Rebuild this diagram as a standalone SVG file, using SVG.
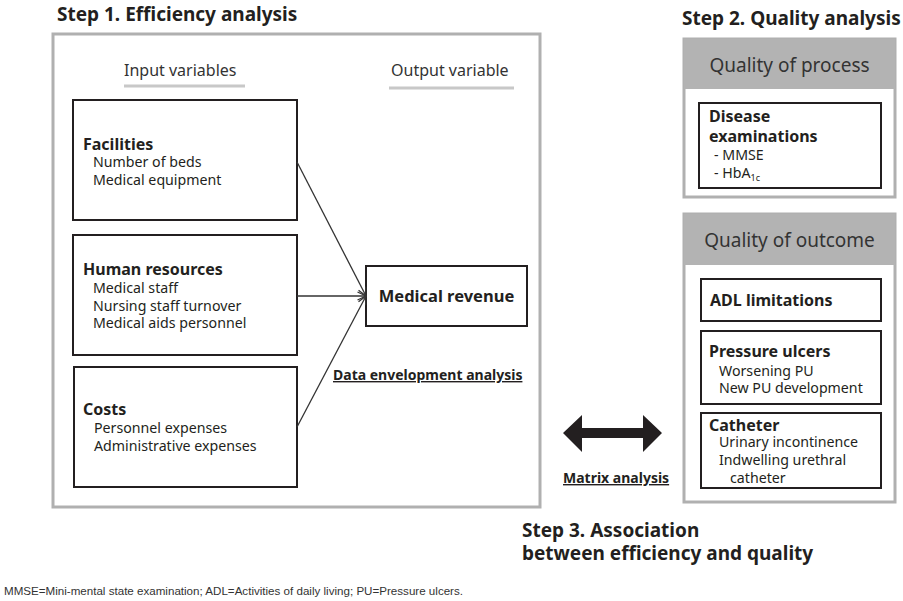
<svg xmlns="http://www.w3.org/2000/svg" width="903" height="601" viewBox="0 0 903 601">
<style>
  text { font-family: "Noto Sans", "Open Sans", sans-serif; fill: #231f20; }
  .title { font-size: 19px; font-weight: bold; }
  .hd { font-size: 16px; font-weight: bold; }
  .sub { font-size: 14.2px; }
  .col { font-size: 16px; fill: #333; }
  .qual { font-size: 19px; fill: #333; }
  .box { fill: #fff; stroke: #231f20; stroke-width: 2; }
  .frame { fill: #fff; stroke: #b0b0b0; stroke-width: 3; }
  .band { fill: #b3b3b3; }
  .conn { stroke: #333; stroke-width: 1.3; fill: none; }
  .ul { font-size: 14px; font-weight: bold; text-decoration: underline; }
  .foot { font-family: "Liberation Sans", Arial, sans-serif; font-size: 11.5px; fill: #333; }
</style>
<defs>
  <marker id="chev" viewBox="0 0 10 10" refX="9.5" refY="5" markerWidth="10" markerHeight="10" markerUnits="userSpaceOnUse" orient="auto">
    <path d="M1,1 L9.5,5 L1,9" fill="none" stroke="#333" stroke-width="1.3"/>
  </marker>
</defs>
<rect width="903" height="601" fill="#fff"/>

<!-- Step 1 -->
<text class="title" x="57" y="21">Step 1. Efficiency analysis</text>
<rect class="frame" x="53" y="34" width="487" height="473"/>
<text class="col" x="124" y="76">Input variables</text>
<line x1="124" y1="86" x2="245" y2="86" stroke="#c8c8c8" stroke-width="3"/>
<text class="col" x="391" y="76">Output variable</text>
<line x1="389" y1="88" x2="514" y2="88" stroke="#c8c8c8" stroke-width="3"/>

<g id="facilities">
  <rect class="box" x="73" y="100" width="224" height="120"/>
  <text class="hd" x="83" y="150">Facilities</text>
  <text class="sub" x="93" y="167">Number of beds</text>
  <text class="sub" x="93" y="185">Medical equipment</text>
</g>
<g id="human-resources">
  <rect class="box" x="73" y="235" width="224" height="120"/>
  <text class="hd" x="83" y="275">Human resources</text>
  <text class="sub" x="93" y="293">Medical staff</text>
  <text class="sub" x="93" y="311">Nursing staff turnover</text>
  <text class="sub" x="93" y="328">Medical aids personnel</text>
</g>
<g id="costs">
  <rect class="box" x="74" y="367" width="223" height="120"/>
  <text class="hd" x="83" y="415">Costs</text>
  <text class="sub" x="94" y="433">Personnel expenses</text>
  <text class="sub" x="94" y="451">Administrative expenses</text>
</g>
<g id="medical-revenue">
  <rect class="box" x="366" y="266" width="161" height="60"/>
  <text x="446.5" y="302" text-anchor="middle" style="font-size:16.5px;font-weight:bold">Medical revenue</text>
</g>
<text class="ul" x="333" y="380">Data envelopment analysis</text>

<g id="connectors">
  <line class="conn" x1="297" y1="162" x2="366" y2="296" marker-end="url(#chev)"/>
  <line class="conn" x1="297" y1="296" x2="366" y2="296" marker-end="url(#chev)"/>
  <line class="conn" x1="297" y1="427" x2="366" y2="296" marker-end="url(#chev)"/>
  <polygon id="matrix-arrow" points="563,433 582,415 582,428 643,428 643,415 662,433 643,452 643,438 582,438 582,452" fill="#231f20"/>
</g>
<text class="ul" x="563" y="483">Matrix analysis</text>

<!-- Step 2 -->
<text class="title" x="682" y="25">Step 2. Quality analysis</text>
<g id="quality-of-process">
  <rect class="frame" x="684" y="39" width="211" height="158"/>
  <rect class="band" x="684" y="39" width="211" height="50"/>
  <text class="qual" x="789.5" y="72" text-anchor="middle">Quality of process</text>
</g>
<g id="disease-examinations">
  <rect class="box" x="699" y="103" width="182" height="85"/>
  <text class="hd" x="709" y="122">Disease</text>
  <text class="hd" x="709" y="142">examinations</text>
  <text class="sub" x="714" y="160">- MMSE</text>
  <text class="sub" x="714" y="178">- HbA<tspan style="font-size:9px" dy="3">1c</tspan></text>
</g>

<g id="quality-of-outcome">
  <rect class="frame" x="684" y="214" width="211" height="288"/>
  <rect class="band" x="684" y="214" width="211" height="51"/>
  <text class="qual" x="789.5" y="247" text-anchor="middle">Quality of outcome</text>
</g>
<g id="adl">
  <rect class="box" x="701" y="279" width="180" height="42"/>
  <text class="hd" x="710" y="306">ADL limitations</text>
</g>
<g id="pressure-ulcers">
  <rect class="box" x="701" y="331" width="180" height="73"/>
  <text class="hd" x="709" y="357">Pressure ulcers</text>
  <text class="sub" x="719" y="376">Worsening PU</text>
  <text class="sub" x="719" y="393">New PU development</text>
</g>
<g id="catheter">
  <rect class="box" x="701" y="413" width="180" height="75"/>
  <text class="hd" x="709" y="431">Catheter</text>
  <text class="sub" x="719" y="447">Urinary incontinence</text>
  <text class="sub" x="719" y="465">Indwelling urethral</text>
  <text class="sub" x="730" y="483">catheter</text>
</g>

<!-- Step 3 -->
<text class="title" x="522" y="537">Step 3. Association</text>
<text class="title" x="522" y="560">between efficiency and quality</text>

<text class="foot" x="4" y="595" textLength="459" lengthAdjust="spacingAndGlyphs">MMSE=Mini-mental state examination; ADL=Activities of daily living; PU=Pressure ulcers.</text>
</svg>
